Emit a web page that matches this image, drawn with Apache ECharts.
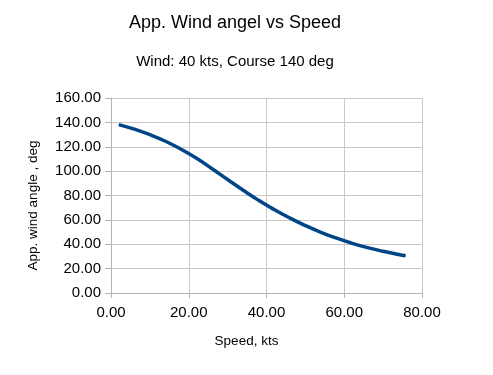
<!DOCTYPE html>
<html>
<head>
<meta charset="utf-8">
<script src="https://cdn.jsdelivr.net/npm/echarts@6/dist/echarts.min.js"></script>
<style>
html,body{margin:0;padding:0;background:#fff;}
#c{width:493px;height:375px;}
</style>
</head>
<body>
<div id="c"></div>
<script>
const titleText = "App. Wind angel vs Speed";
const subtitleText = "Wind: 40 kts, Course 140 deg";
const xAxisName = "Speed, kts";
const yAxisName = "App. wind angle , deg";
const speeds = [2, 6, 10, 14, 18, 22, 26, 30, 34, 38, 42, 46, 50, 54, 58, 62, 66, 70, 74, 75.8];
const angles = [138.2, 134.4, 129.9, 124.5, 118.0, 110.6, 102.0, 93.1, 84.3, 76.0, 68.4, 61.5, 55.3, 49.8, 45.0, 40.8, 37.2, 34.2, 31.6, 30.6];

const chart = echarts.init(document.getElementById('c'), null, {renderer: 'canvas'});
const font = '"Liberation Sans", Arial, sans-serif';
chart.setOption({
  animation: false,
  backgroundColor: '#ffffff',
  title: [
    {text: titleText, left: 230, top: 9, textAlign: 'center',
     textStyle: {fontFamily: font, fontSize: 18, fontWeight: 'normal', color: '#000'}},
    {text: subtitleText, left: 230, top: 49, textAlign: 'center',
     textStyle: {fontFamily: font, fontSize: 15, fontWeight: 'normal', color: '#000'}}
  ],
  grid: {left: 111, top: 98, right: 71, bottom: 82, containLabel: false},
  xAxis: {
    type: 'value', min: 0, max: 80, interval: 20,
    name: xAxisName, nameLocation: 'middle', nameGap: 41,
    nameTextStyle: {fontFamily: font, fontSize: 13.5, color: '#000', padding: [0, 40, 0, 0]},
    axisLine: {show: true, lineStyle: {color: '#b3b3b3', width: 1}},
    axisTick: {show: true, inside: false, length: 5, lineStyle: {color: '#b3b3b3'}},
    axisLabel: {fontFamily: font, fontSize: 15, color: '#000', margin: 12,
      formatter: v => v.toFixed(2)},
    splitLine: {show: true, lineStyle: {color: '#c8c8c8', width: 1}}
  },
  yAxis: {
    type: 'value', min: 0, max: 160, interval: 20,
    name: yAxisName, nameLocation: 'middle', nameGap: 71,
    nameTextStyle: {fontFamily: font, fontSize: 13.5, color: '#000', padding: [0, 20, 0, 0]},
    axisLine: {show: true, lineStyle: {color: '#b3b3b3', width: 1}},
    axisTick: {show: true, inside: false, length: 6, lineStyle: {color: '#b3b3b3'}},
    axisLabel: {fontFamily: font, fontSize: 15, color: '#000', margin: 10,
      formatter: v => v.toFixed(2)},
    splitLine: {show: true, lineStyle: {color: '#c8c8c8', width: 1}}
  },
  series: [{
    type: 'line',
    data: speeds.map((s, i) => [s, angles[i]]),
    smooth: true,
    showSymbol: false,
    lineStyle: {color: '#004586', width: 3.5},
    itemStyle: {color: '#004586'}
  }]
});
</script>
</body>
</html>
